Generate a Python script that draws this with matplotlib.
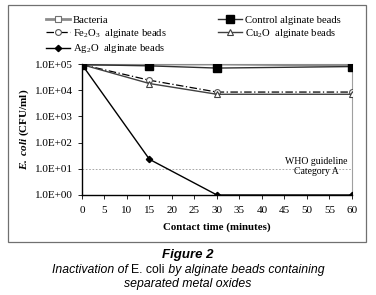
"""Inactivation of E. coli by alginate beads with separated metal oxides."""
import matplotlib
matplotlib.use("Agg")
import matplotlib.pyplot as plt
from matplotlib.patches import Rectangle

plt.rcParams["font.family"] = "Liberation Serif"
plt.rcParams["mathtext.fontset"] = "custom"
plt.rcParams["mathtext.rm"] = "Liberation Serif"
plt.rcParams["mathtext.it"] = "Liberation Serif:italic"
plt.rcParams["mathtext.bf"] = "Liberation Serif:bold"
plt.rcParams["mathtext.bfit"] = "Liberation Serif:italic:bold"

# data
time = [0, 15, 30, 60]
bacteria = [9.5e4, 1.0e5, 1.0e5, 9.0e4]
control = [9.5e4, 8.5e4, 7.0e4, 8.0e4]
fe2o3 = [9.5e4, 2.4e4, 8.5e3, 8.5e3]
cu2o = [9.5e4, 1.8e4, 7.0e3, 7.0e3]
ag2o = [9.5e4, 23, 1.0, 1.0]
who_limit = 10
x_ticks = list(range(0, 61, 5))
y_ticks = [1e0, 1e1, 1e2, 1e3, 1e4, 1e5]
y_labels = ["1.0E+00", "1.0E+01", "1.0E+02", "1.0E+03", "1.0E+04", "1.0E+05"]

fig = plt.figure(figsize=(3.76, 2.95), dpi=100)
ax = fig.add_axes([0.218, 0.339, 0.718, 0.444])

# outer frame
fig.patches.append(Rectangle((0.021, 0.180), 0.952, 0.803, transform=fig.transFigure,
                             fill=False, edgecolor="#707070", linewidth=0.9))

ax.plot(time, bacteria, color="#8c8c8c", lw=2.0, marker="s", ms=5,
        mfc="white", mec="#707070", mew=0.8, label="Bacteria", zorder=3)
ax.plot(time, control, color="#303030", lw=1.0, marker="s", ms=6,
        mfc="black", mec="black", label="Control alginate beads", zorder=4)
ax.plot(time, fe2o3, color="black", lw=0.9, ls=(0, (6, 2, 1, 2)), marker="o", ms=4.2,
        mfc="white", mec="#555555", mew=0.8, label=r"Fe$_2$O$_3$  alginate beads", zorder=3)
ax.plot(time, cu2o, color="#404040", lw=1.0, marker="^", ms=4.2,
        mfc="white", mec="#404040", mew=0.8, label=r"Cu$_2$O  alginate beads", zorder=3)
ax.plot(time, ag2o, color="black", lw=1.0, marker="D", ms=3.2,
        mfc="black", mec="black", label=r"Ag$_2$O  alginate beads", zorder=4)

ax.axhline(who_limit, color="#999999", lw=0.6, ls=(0, (2, 2)), zorder=1)
ax.text(52, who_limit * 1.25, "WHO guideline\nCategory A", ha="center", va="center",
        fontsize=7, linespacing=1.1)

ax.set_yscale("log")
ax.set_xlim(0, 60)
ax.set_ylim(1, 1e5)
ax.set_xticks(x_ticks)
ax.set_yticks(y_ticks)
ax.set_yticklabels(y_labels)
ax.minorticks_off()
ax.tick_params(labelsize=8, length=3, width=0.6, direction="out")
ax.tick_params(axis="x", pad=5)
for side in ["top", "right"]:
    ax.spines[side].set_color("#a0a0a0")
for side in ["left", "bottom"]:
    ax.spines[side].set_linewidth(1.0)

ax.set_xlabel("Contact time (minutes)", fontsize=7.8, fontweight="bold", labelpad=5)
ax.set_ylabel(r"$\mathbfit{E.\ coli}$ (CFU/ml)", fontsize=8, fontweight="bold", labelpad=3)

handles, labels = ax.get_legend_handles_labels()
order = [0, 2, 4, 1, 3]
fig.legend([handles[i] for i in order], [labels[i] for i in order], ncol=2,
           loc="upper left", bbox_to_anchor=(0.112, 0.962), frameon=False, fontsize=7.7,
           handlelength=2.2, handletextpad=0.3, columnspacing=4.8, labelspacing=0.2,
           borderaxespad=0)

# caption with mixed italic / upright runs
fig.text(0.5, 0.135, "Figure 2", ha="center", va="center", family="Liberation Sans",
         style="italic", fontweight="bold", fontsize=9.5)
fig.canvas.draw()
renderer = fig.canvas.get_renderer()
runs = [("Inactivation of ", "italic"), ("E. coli", "normal"),
        (" by alginate beads containing", "italic")]
pieces = [fig.text(0, 0.084, s, family="Liberation Sans", style=st, fontsize=8.8,
                   va="center") for s, st in runs]
widths = [p.get_window_extent(renderer).width / fig.bbox.width for p in pieces]
x = 0.5 - sum(widths) / 2
for p, w in zip(pieces, widths):
    p.set_x(x)
    x += w
fig.text(0.5, 0.036, "separated metal oxides", ha="center", va="center",
         family="Liberation Sans", style="italic", fontsize=8.8)

fig.savefig("out.png", dpi=100)
